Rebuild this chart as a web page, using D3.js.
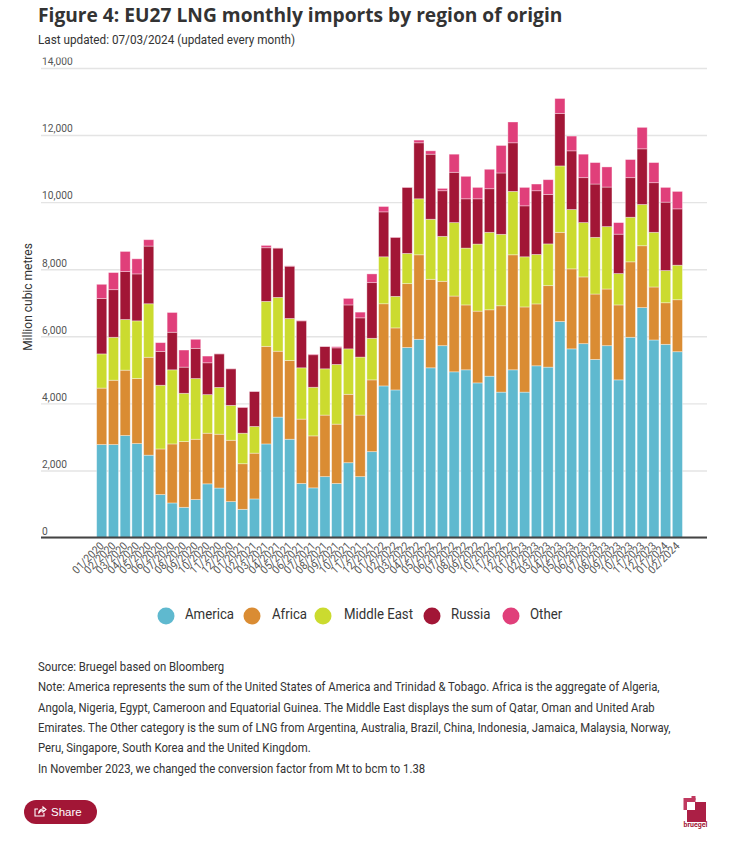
<!DOCTYPE html>
<html><head><meta charset="utf-8">
<script src="https://cdn.jsdelivr.net/npm/d3@7/dist/d3.min.js"></script>
<style>html,body{margin:0;padding:0;background:#fff}svg{display:block}</style>
</head><body><div id="c"></div>
<script>
const months=["01/2020","02/2020","03/2020","04/2020","05/2020","06/2020","07/2020","08/2020","09/2020","10/2020","11/2020","12/2020","01/2021","02/2021","03/2021","04/2021","05/2021","06/2021","07/2021","08/2021","09/2021","10/2021","11/2021","12/2021","01/2022","02/2022","03/2022","04/2022","05/2022","06/2022","07/2022","08/2022","09/2022","10/2022","11/2022","12/2022","01/2023","02/2023","03/2023","04/2023","05/2023","06/2023","07/2023","08/2023","09/2023","10/2023","11/2023","12/2023","01/2024","02/2024"];
const america=[2770,2770,3040,2800,2455,1280,1030,900,1130,1600,1475,1070,840,1150,2790,3590,2930,1610,1480,1815,1610,2230,1815,2560,4520,4400,5665,5910,5060,5720,4940,5000,4610,4810,4335,5000,4335,5120,5080,6440,5625,5780,5310,5720,4700,5970,6855,5890,5760,5540];
const africa=[1685,1920,1950,1940,2920,1360,1760,1960,1800,1510,1605,1830,1360,1365,2910,1965,2350,1920,1550,1835,1770,2040,1835,2140,2450,1850,1905,2520,2640,1920,2260,1935,2140,1980,2575,3430,2540,1845,2430,2660,2385,1990,1950,1690,2235,2250,1845,1580,1240,1550];
const middleEast=[1020,1280,1510,1720,1595,1900,2210,1440,1810,1150,1395,1040,910,795,1340,1605,1250,1530,1450,1380,1780,1355,1730,1240,1400,940,900,1670,1790,1340,2190,1695,2000,2310,2130,1890,1495,1475,1245,1980,1770,1620,1690,1860,935,1330,1230,1630,960,1030];
const russia=[1650,1420,1430,1400,1720,1010,1120,780,900,950,1000,1090,770,1045,1600,1470,1560,1400,970,665,495,1310,1170,1660,1340,1760,1970,1670,1940,1360,1500,1470,1350,1300,1830,1450,1520,1900,1475,1560,1750,1340,1590,1180,1175,1180,1660,1480,2040,1680];
const other=[425,510,600,450,190,260,590,510,270,200,5,5,10,5,70,5,10,10,20,5,35,195,170,260,160,10,10,80,100,70,540,670,340,580,820,620,550,200,440,450,440,700,640,600,345,540,640,600,440,520];
const seriesNames=["America","Africa","Middle East","Russia","Other"];
const seriesValues=[america,africa,middleEast,russia,other];
const colors=["#5fb9cf","#da8c33","#cbdb2f","#a21636","#e03f7a"];
const yTicks=[0,2000,4000,6000,8000,10000,12000,14000];
const footLines=["Source: Bruegel based on Bloomberg","Note: America represents the sum of the United States of America and Trinidad & Tobago. Africa is the aggregate of Algeria,","Angola, Nigeria, Egypt, Cameroon and Equatorial Guinea. The Middle East displays the sum of Qatar, Oman and United Arab","Emirates. The Other category is the sum of LNG from Argentina, Australia, Brazil, China, Indonesia, Jamaica, Malaysia, Norway,","Peru, Singapore, South Korea and the United Kingdom.","In November 2023, we changed the conversion factor from Mt to bcm to 1.38"];

const body="Roboto, sans-serif";
const svg=d3.select("#c").append("svg").attr("width",729).attr("height",845);
svg.append("defs").append("clipPath").attr("id","tickClip").append("rect").attr("x",0).attr("y",57.5).attr("width",729).attr("height",500);
svg.append("text").attr("x",38).attr("y",22).attr("font-family","'Open Sans',sans-serif").attr("font-weight",700).attr("font-size",19.2).attr("fill","#333").text("Figure 4: EU27 LNG monthly imports by region of origin");
svg.append("text").attr("transform","translate(38,44) scale(.977,1)").attr("font-family",body).attr("font-size",12).attr("fill","#333").text("Last updated: 07/03/2024 (updated every month)");

const y=d3.scaleLinear().domain([0,14000]).range([537.5,68]);
const x=d3.scaleBand().domain(months).range([96.3,682.8]).paddingInner(0.14).paddingOuter(0.03);

const gy=svg.append("g").attr("clip-path","url(#tickClip)").append("g").attr("transform","translate(41,0)").call(d3.axisLeft(y).tickValues(yTicks).tickSize(-666).tickFormat(d3.format(",")));
gy.select(".domain").remove();
gy.selectAll("line").attr("stroke","#e4e4e4").attr("stroke-width",1.4);
gy.selectAll("text").attr("text-anchor","start").attr("x",0).attr("y",0).attr("dy",0).attr("transform","translate(1,-3.2) scale(.89,1)").attr("font-family",body).attr("font-size",11.5).attr("fill","#555");

const stack=d3.stack().keys(d3.range(5)).value((d,k)=>seriesValues[k][d]);
const layers=stack(d3.range(months.length));
svg.append("g").selectAll("g").data(layers).join("g").attr("fill",(d,i)=>colors[i])
 .selectAll("rect").data(d=>d).join("rect")
 .attr("x",(d,i)=>x(months[i])).attr("width",x.bandwidth())
 .attr("y",d=>y(d[1])).attr("height",d=>y(d[0])-y(d[1]))
 .attr("stroke","#fff").attr("stroke-opacity",0.45).attr("stroke-width",0.8);

const gx=svg.append("g").attr("transform","translate(0,537.5)").call(d3.axisBottom(x).tickSize(0).tickSizeOuter(0));
gx.select(".domain").attr("stroke","#444").attr("stroke-width",2).attr("d","M41,0H707");
gx.selectAll("text").attr("font-family",body).attr("font-size",11).attr("fill","#555")
 .attr("text-anchor","end").attr("dy",0).attr("y",0).attr("x",0)
 .attr("transform","translate(3,9) rotate(-45) scale(.95,1)");

svg.append("text").attr("transform","translate(32,297) rotate(-90)").attr("text-anchor","middle").attr("font-family",body).attr("font-size",12).attr("fill","#333").text("Million cubic metres");

const lx=[166,252,323,432,511], ltx=[185,272,344,451,530];
const lg=svg.append("g").selectAll("g").data(seriesNames).join("g");
lg.append("circle").attr("cx",(d,i)=>lx[i]).attr("cy",616).attr("r",8.5).attr("fill",(d,i)=>colors[i]);
lg.append("text").attr("transform",(d,i)=>`translate(${ltx[i]},619) scale(.945,1)`).attr("font-family",body).attr("font-size",14).attr("fill","#333").text(d=>d);

svg.append("g").selectAll("text").data(footLines).join("text").attr("transform",(d,i)=>`translate(38,${671+i*20.3}) scale(.946,1)`)
 .attr("font-family",body).attr("font-size",12).attr("fill","#333").text(d=>d);

const s=svg.append("g");
s.append("rect").attr("x",24).attr("y",800).attr("width",73).attr("height",24).attr("rx",12).attr("fill","#a21636");
s.append("path").attr("d","M38 809H35V816H44V813M38.5 813.5C39 810.5 41 809 43 809V807L46 809.5L43 812V810.5C41 810.5 39.5 811.5 38.5 813.5Z").attr("fill","none").attr("stroke","#fff").attr("stroke-width",1.1);
s.append("text").attr("x",51).attr("y",816).attr("font-family","'Liberation Sans',sans-serif").attr("font-size",11.5).attr("fill","#fff").text("Share");

const b=svg.append("g");
b.append("rect").attr("x",683.5).attr("y",798).attr("width",12).attr("height",12).attr("fill","#c0395f");
b.append("rect").attr("x",691.5).attr("y",796).attr("width",4).attr("height",4).attr("fill","#c0395f");
b.append("rect").attr("x",687).attr("y",802).attr("width",19).attr("height",20).attr("fill","#ab1f45");
b.append("rect").attr("x",687).attr("y",802).attr("width",8).attr("height",8).attr("fill","#fff");
b.append("text").attr("x",695.5).attr("y",827).attr("text-anchor","middle").attr("font-family",body).attr("font-weight",700).attr("font-size",7).attr("fill","#a21636").text("bruegel");
</script></body></html>
